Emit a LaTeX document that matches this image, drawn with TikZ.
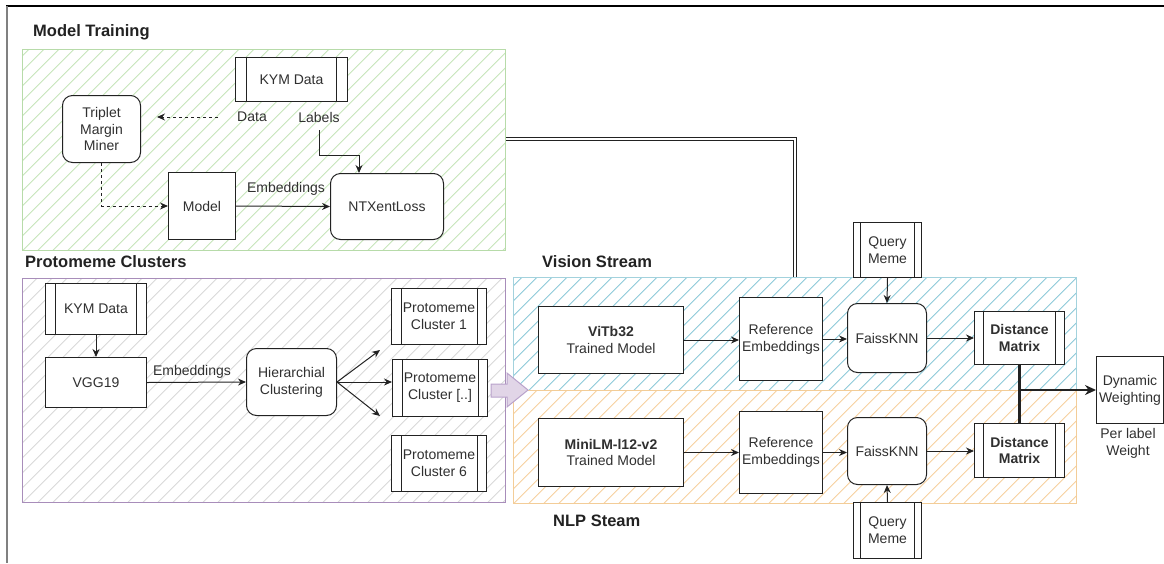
\documentclass[tikz,border=0pt]{standalone}
\usepackage{fontspec}
\setmainfont{Liberation Sans}
\usetikzlibrary{arrows.meta,calc}
\definecolor{grnhatch}{HTML}{C6E4BA}
\definecolor{grnline}{HTML}{B7DBA9}
\definecolor{purline}{HTML}{A88DBA}
\definecolor{grayhatch}{HTML}{D8D8D8}
\definecolor{bluhatch}{HTML}{8CC9D8}
\definecolor{bluline}{HTML}{A3D2DD}
\definecolor{orahatch}{HTML}{F6D09E}
\definecolor{oraline}{HTML}{F3CD98}
\definecolor{purfill}{HTML}{E1D5E7}
\definecolor{purarrow}{HTML}{B9A2CB}
\definecolor{ink}{HTML}{222222}
\definecolor{txt}{HTML}{303030}
\newcommand\fsnorm{\fontsize{14}{16.8}\selectfont}
\newcommand\fstitle{\fontsize{16.5}{19.5}\selectfont\bfseries}
\begin{document}
\begin{tikzpicture}[x=1pt,y=-1pt,
  hatch/.style={path picture={
    \foreach \i in {-50,...,50}{
      \draw[#1, line width=0.9pt] ([xshift=\i*15pt]path picture bounding box.south west) -- ++(420pt,420pt);
    }}},
  area/.style 2 args={draw=#1, line width=1.2pt, hatch=#2, inner sep=0pt, anchor=north west},
  sz/.style 2 args={minimum width=#1pt, minimum height=#2pt},
  box/.style={draw=ink, fill=white, line width=1pt, inner sep=0pt, align=center, anchor=north west, text=txt, font=\fsnorm},
  rbox/.style={box, rounded corners=10pt},
  process/.style={box, path picture={
    \draw[ink, line width=1pt]
      ($(path picture bounding box.north west)!0.1!(path picture bounding box.north east)$) --
      ($(path picture bounding box.south west)!0.1!(path picture bounding box.south east)$)
      ($(path picture bounding box.north west)!0.9!(path picture bounding box.north east)$) --
      ($(path picture bounding box.south west)!0.9!(path picture bounding box.south east)$);}},
  lbl/.style={inner sep=0pt, text=txt, font=\fsnorm, align=center},
  ttl/.style={inner sep=0pt, anchor=west, text=ink, font=\fstitle},
  arr/.style={-{Stealth[length=8pt,width=7pt]}, line width=1pt, draw=ink},
]
\useasboundingbox (0,0) rectangle (1164,563);
% frame
\draw[black, line width=1.5pt] (6,6) -- (1164,6);
\draw[gray, line width=2pt] (6.5,6) -- (6.5,563);

% ===== areas =====
\node[area={grnline}{grnhatch}, sz={483}{201}] (green) at (22,49) {};
\node[area={purline}{grayhatch}, sz={483}{224}] (purple) at (22,278) {};
\node[area={bluline}{bluhatch}, sz={563}{113}] (blue) at (513,277) {};
\node[area={oraline}{orahatch}, sz={563}{113}] (orange) at (513,390) {};

% titles
\node[ttl] (t1) at (33,32) {Model Training};
\node[ttl] (t2) at (25,262) {Protomeme Clusters};
\node[ttl] (t3) at (542,262) {Vision Stream};
\node[ttl] (t4) at (553,521) {NLP Steam};

% ===== Model training =====
\node[process, sz={112}{44}] (kym1) at (235,57) {KYM Data};
\node[rbox, sz={78}{67}] (trip) at (62,95) {Triplet\\Margin\\Miner};
\node[lbl] (data) at (252,117) {Data};
\node[lbl] (labels) at (319,117) {Labels};
\node[box, sz={67}{67}] (model) at (168,172) {Model};
\node[rbox, sz={113}{66}] (ntx) at (330,173) {NTXentLoss};

\coordinate (dA) at (218,117);
\coordinate (dB) at (157,117);
\draw[arr, dashed] (dA) -- (dB);
\coordinate (lb) at (319,130);
\coordinate (lbx) at (359,155);
\draw[arr] (lb) |- (lbx) -- (lbx |- ntx.north);
\draw[arr, dashed] (trip.south) |- (model.west);
\draw[arr] (model.east) -- (ntx.west);
\node[lbl] (emb1) at (286,189) {Embeddings};

% double connector to vision stream
\coordinate (dl) at (795,139);
\draw[ink, line width=0.8pt, double=white, double distance=2.6pt] (green.east |- dl) -- (dl) -- (dl |- blue.north);

% ===== Protomeme clusters =====
\node[process, sz={101}{51}] (kym2) at (45,283) {KYM Data};
\node[box, sz={101}{50}] (vgg) at (45,357) {VGG19};
\node[rbox, sz={90}{67}] (hier) at (246,348) {Hierarchial\\Clustering};
\node[process, sz={95}{56}] (pc1) at (391,288) {Protomeme\\Cluster 1};
\node[process, sz={95}{57}] (pc2) at (392,359) {Protomeme\\Cluster [..]};
\node[process, sz={95}{56}] (pc6) at (391,435) {Protomeme\\Cluster 6};

\draw[arr] (kym2.south) -- (vgg.north);
\draw[arr] (vgg.east) -- (hier.west);
\node[lbl] (emb2) at (192,372) {Embeddings};
\coordinate (hu) at (380,350);
\coordinate (hd) at (380,416);
\draw[arr] (hier.east) -- (hu);
\draw[arr] (hier.east) -- (hier.east -| pc2.west);
\draw[arr] (hier.east) -- (hd);

% block arrow
\draw[purarrow, fill=purfill, line width=1pt, line join=miter]
  (491,384) -- (507,384) -- (507,373) -- (528,390) -- (507,407) -- (507,397) -- (491,397) -- cycle;

% ===== Vision stream =====
\node[box, sz={145}{67}] (vit) at (538,306) {\textbf{ViTb32}\\Trained Model};
\node[box, sz={83}{83}] (ref1) at (739,297) {Reference\\Embeddings};
\node[rbox, sz={79}{69}] (fk1) at (847,303) {FaissKNN};
\node[process, sz={68}{55}] (qm1) at (853,222) {Query\\Meme};
\node[process, sz={90}{53}] (dm1) at (974,311) {\textbf{Distance}\\\textbf{Matrix}};

% ===== NLP stream =====
\node[box, sz={145}{68}] (mini) at (538,418) {\textbf{MiniLM-l12-v2}\\Trained Model};
\node[box, sz={83}{82}] (ref2) at (739,411) {Reference\\Embeddings};
\node[rbox, sz={79}{67}] (fk2) at (847,417) {FaissKNN};
\node[process, sz={90}{54}] (dm2) at (974,423) {\textbf{Distance}\\\textbf{Matrix}};
\node[process, sz={68}{56}] (qm2) at (853,502) {Query\\Meme};

\node[box, sz={67}{67}] (dyn) at (1096,356) {Dynamic\\Weighting};
\node[lbl] (plw) at (1128,443) {Per label\\Weight};

\draw[arr] (vit.east) -- (ref1.west |- vit.east);
\draw[arr] (ref1.east) -- (fk1.west |- ref1.east);
\draw[arr] (fk1.east) -- (dm1.west |- fk1.east);
\draw[arr] (qm1.south) -- (fk1.north);
\draw[arr] (mini.east) -- (ref2.west |- mini.east);
\draw[arr] (ref2.east) -- (fk2.west |- ref2.east);
\draw[arr] (fk2.east) -- (dm2.west |- fk2.east);
\draw[arr] (qm2.north) -- (fk2.south);

\coordinate (jn) at (1019,390);
\draw[ink, line width=2.2pt] (dm1.south) -- (dm2.north);
\draw[ink, line width=2.2pt, -{Stealth[length=11pt,width=10pt]}] (jn) -- (dyn.west |- jn);
\end{tikzpicture}
\end{document}
